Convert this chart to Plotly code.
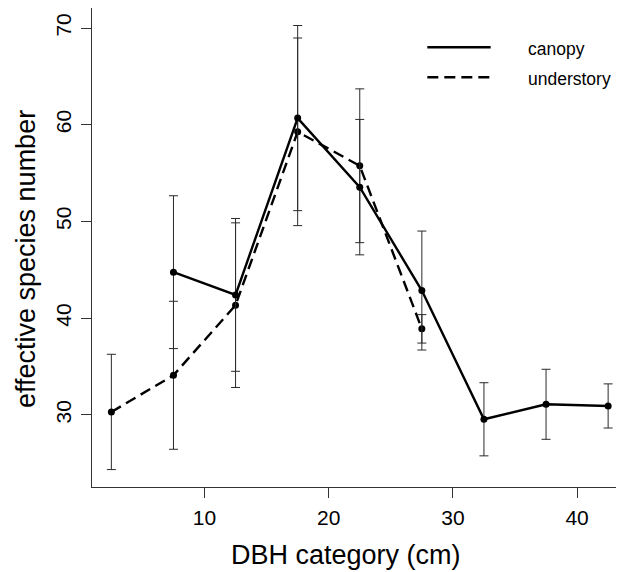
import plotly.graph_objects as go

# DBH category midpoints (cm)
canopy_x = [7.5, 12.5, 17.5, 22.5, 27.5, 32.5, 37.5, 42.5]
canopy_y = [44.76, 42.41, 60.69, 53.55, 42.86, 29.55, 31.10, 30.93]
canopy_err = [7.90, 7.90, 9.57, 7.00, 6.15, 3.78, 3.62, 2.28]

under_x = [2.5, 7.5, 12.5, 17.5, 22.5, 27.5]
under_y = [30.31, 34.10, 41.35, 59.27, 55.76, 38.90]
under_err = [5.96, 7.65, 8.51, 9.70, 7.95, 1.47]

x_ticks = [10, 20, 30, 40]
y_ticks = [30, 40, 50, 60, 70]

FONT = "Liberation Sans, Arial, sans-serif"
ERR = dict(type="data", visible=True, thickness=1, width=4.5, color="#2a2a2a")
DASH = "11px,6px"

fig = go.Figure()
fig.add_trace(go.Scatter(
    x=under_x, y=under_y, mode="lines+markers", name="understory",
    line=dict(color="black", width=2.4, dash=DASH),
    marker=dict(color="black", size=7),
    error_y=dict(array=under_err, **ERR),
))
fig.add_trace(go.Scatter(
    x=canopy_x, y=canopy_y, mode="lines+markers", name="canopy",
    line=dict(color="black", width=2.4),
    marker=dict(color="black", size=7),
    error_y=dict(array=canopy_err, **ERR),
))

# legend drawn manually (top-right)
legend_items = [("canopy", "solid", 0.918), ("understory", DASH, 0.8553)]
for label, dash, yy in legend_items:
    fig.add_shape(type="line", xref="paper", yref="paper",
                  x0=0.6256, x1=0.7438, y0=yy, y1=yy,
                  line=dict(color="black", width=2.4, dash=dash))
    fig.add_annotation(xref="paper", yref="paper", x=0.8097, y=yy, yshift=-2,
                       text=label, showarrow=False, xanchor="left",
                       yanchor="middle", font=dict(size=17.5, color="black", family=FONT))

# axis titles
fig.add_annotation(xref="paper", yref="paper", x=0.473, y=-0.142,
                   text="DBH category (cm)", showarrow=False,
                   xanchor="center", yanchor="middle",
                   font=dict(size=27, color="black", family=FONT))
fig.add_annotation(xref="paper", yref="paper", x=-0.1231, y=0.476,
                   text="effective species number", showarrow=False, textangle=-90,
                   xanchor="center", yanchor="middle",
                   font=dict(size=27, color="black", family=FONT))

fig.update_layout(
    width=624, height=572,
    margin=dict(l=84, r=4, t=0, b=93, autoexpand=False),
    paper_bgcolor="white", plot_bgcolor="white",
    showlegend=False,
    font=dict(family=FONT, color="black"),
)
fig.update_xaxes(
    range=[0.94, 44.1], tickvals=x_ticks, ticks="outside", ticklen=10,
    tickcolor="#333", tickwidth=1, showgrid=False, zeroline=False,
    showline=True, linecolor="#333", linewidth=1.2, mirror=True,
    tickfont=dict(size=21), ticklabelstandoff=2, automargin=False,
)
fig.update_yaxes(
    range=[22.55, 72.07], tickvals=y_ticks, ticks="outside", ticklen=10,
    tickcolor="#333", tickwidth=1, showgrid=False, zeroline=False,
    showline=True, linecolor="#333", linewidth=1.2, mirror=True,
    tickfont=dict(size=21), tickangle=-90, ticklabelstandoff=2, automargin=False,
)

fig.write_html("out.html")
